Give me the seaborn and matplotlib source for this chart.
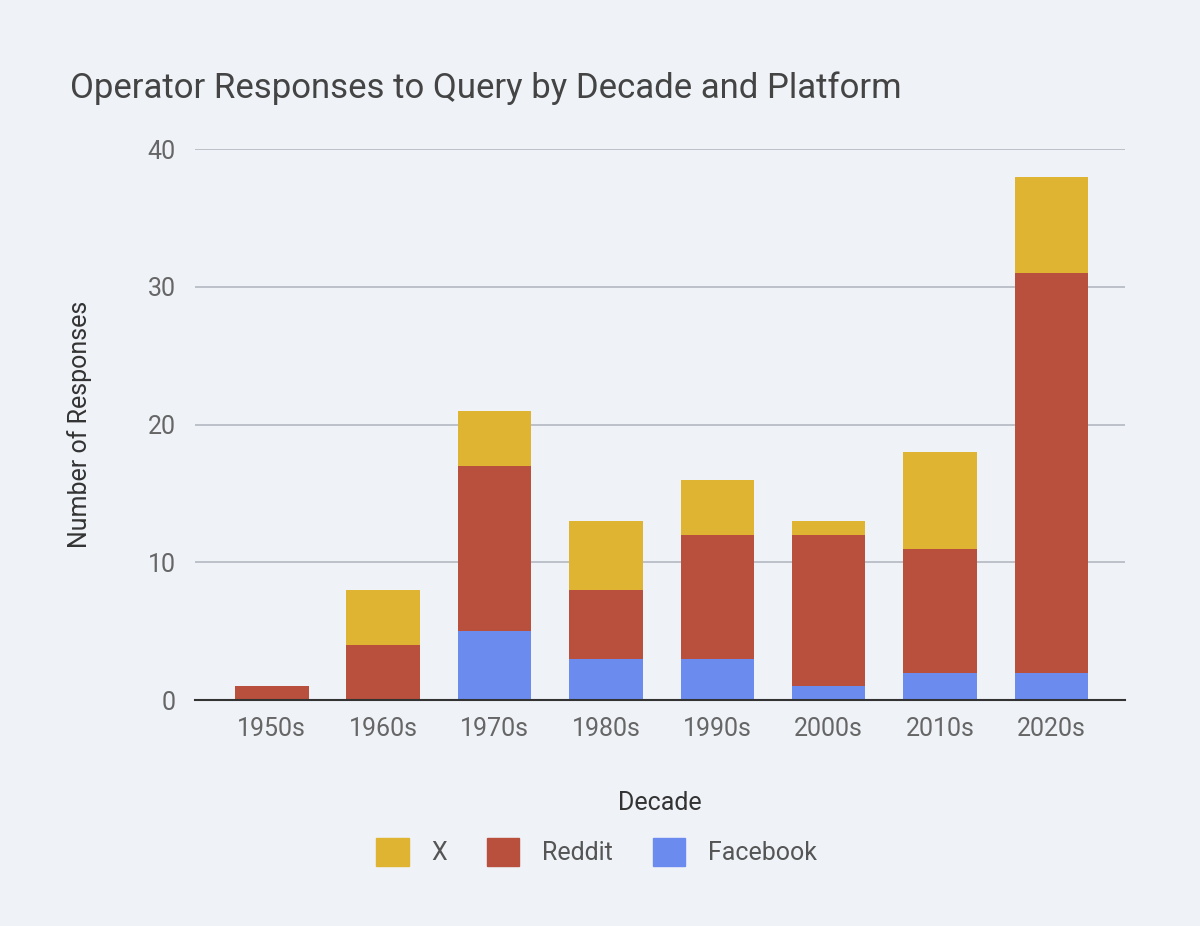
import numpy as np
import pandas as pd
import matplotlib.pyplot as plt
import seaborn as sns

decades = ['1950s', '1960s', '1970s', '1980s', '1990s', '2000s', '2010s', '2020s']
facebook = [0, 0, 5, 3, 3, 1, 2, 2]
reddit = [1, 4, 12, 5, 9, 11, 9, 29]
x_vals = [0, 4, 4, 5, 4, 1, 7, 7]

bg = '#eff3f8'
colors = {'X': '#e0b433', 'Reddit': '#b94f3d', 'Facebook': '#6b8bef'}

sns.set_theme(style='white')
plt.rcParams['font.family'] = ['Roboto', 'DejaVu Sans']

df = pd.DataFrame({'decade': decades, 'Facebook': facebook, 'Reddit': reddit, 'X': x_vals})
df['fr'] = df['Facebook'] + df['Reddit']
df['total'] = df['fr'] + df['X']

fig = plt.figure(figsize=(12, 9.26), dpi=100, facecolor=bg)
ax = fig.add_axes([0.1625, 0.244, 0.775, 0.595], facecolor=bg)

# stack by overdrawing cumulative totals
for col, c in [('total', 'X'), ('fr', 'Reddit'), ('Facebook', 'Facebook')]:
    sns.barplot(data=df, x='decade', y=col, color=colors[c], width=0.66,
                saturation=1, linewidth=0, ax=ax)

ax.set_ylim(0, 40)
ax.set_yticks([0, 10, 20, 30, 40])
ax.set_xlim(-0.69, 7.66)
ax.yaxis.grid(True, color='#b8bcc4', linewidth=1.3)
ax.set_axisbelow(True)
for s in ['top', 'right', 'left']:
    ax.spines[s].set_visible(False)
ax.spines['bottom'].set_color('#333333')
ax.spines['bottom'].set_linewidth(1.5)
ax.tick_params(axis='both', length=0, labelsize=18, labelcolor='#666666', pad=12)
ax.tick_params(axis='y', pad=14)
ax.set_xlabel('Decade', fontsize=18, color='#333333', labelpad=36)
ax.set_ylabel('Number of Responses', fontsize=18, color='#333333', labelpad=40)

fig.text(0.058, 0.905, 'Operator Responses to Query by Decade and Platform',
         fontsize=25, color='#444444', va='center')

handles = [plt.Rectangle((0, 0), 1, 1, color=colors[k]) for k in ['X', 'Reddit', 'Facebook']]
fig.legend(handles, ['X', 'Reddit', 'Facebook'], loc='center', bbox_to_anchor=(0.497, 0.08),
           ncol=3, frameon=False, fontsize=18, labelcolor='#555555',
           handlelength=1.3, handleheight=1.3, columnspacing=1.6, handletextpad=0.9)

fig.savefig('out.png', facecolor=bg)
